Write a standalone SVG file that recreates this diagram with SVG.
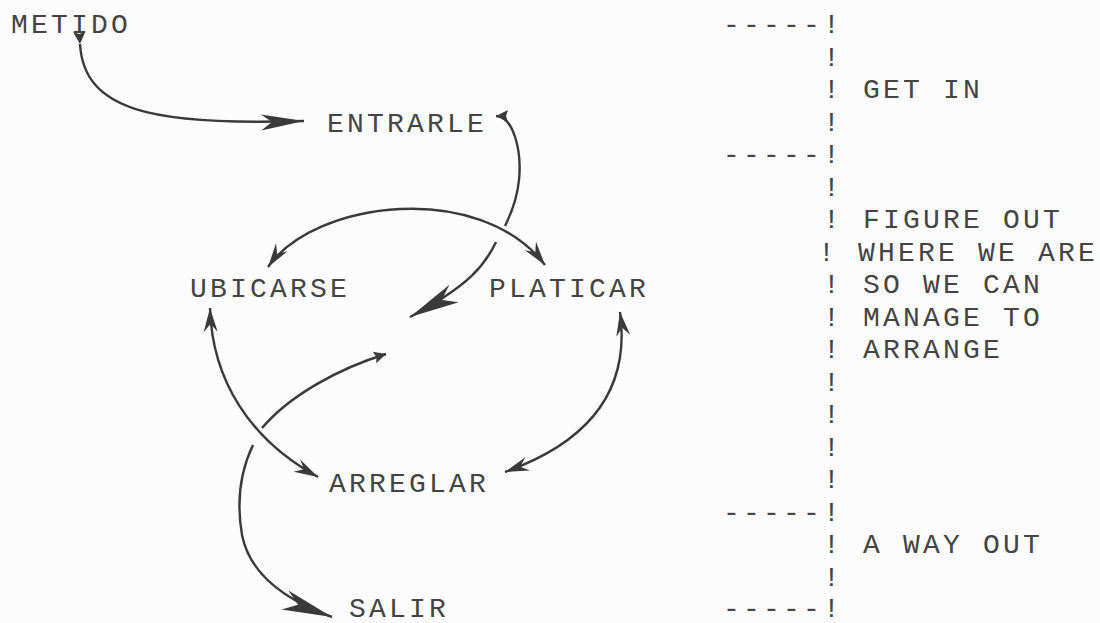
<svg xmlns="http://www.w3.org/2000/svg" width="1100" height="623" viewBox="0 0 1100 623">
  <defs>
    <style>
      text { font-family: "Liberation Mono", "Courier New", monospace; font-size: 28px; letter-spacing: 3.2px; fill: #444; }
      .conn { fill: none; stroke: #3a3a3a; stroke-width: 2.4; stroke-linecap: butt; }
    </style>
    <!-- barbed arrowheads, tip at the origin, pointing along +x -->
    <marker id="big" markerUnits="userSpaceOnUse" viewBox="-52 -12 54 24" refX="0" refY="0" markerWidth="54" markerHeight="24" orient="auto">
      <path d="M0,0 L-50,-10 L-36,0 L-50,10 Z" fill="#3a3a3a"/>
    </marker>
    <marker id="long" markerUnits="userSpaceOnUse" viewBox="-46 -10 48 20" refX="0" refY="0" markerWidth="48" markerHeight="20" orient="auto">
      <path d="M0,0 L-43,-8 L-32,0 L-43,8 Z" fill="#3a3a3a"/>
    </marker>
    <marker id="med" markerUnits="userSpaceOnUse" viewBox="-26 -9 28 18" refX="0" refY="0" markerWidth="28" markerHeight="18" orient="auto">
      <path d="M0,0 L-24,-7 L-16,0 L-24,7 Z" fill="#3a3a3a"/>
    </marker>
    <marker id="medStart" markerUnits="userSpaceOnUse" viewBox="-26 -9 28 18" refX="0" refY="0" markerWidth="28" markerHeight="18" orient="auto-start-reverse">
      <path d="M0,0 L-24,-7 L-16,0 L-24,7 Z" fill="#3a3a3a"/>
    </marker>
    <!-- small solid tail marks -->
    <marker id="tick" markerUnits="userSpaceOnUse" viewBox="-14 -7 16 14" refX="0" refY="0" markerWidth="16" markerHeight="14" orient="auto">
      <path d="M0,0 L-12,-6 L-10,0 L-12,6 Z" fill="#3a3a3a"/>
    </marker>
    <marker id="tickStart" markerUnits="userSpaceOnUse" viewBox="-14 -7 16 14" refX="0" refY="0" markerWidth="16" markerHeight="14" orient="auto-start-reverse">
      <path d="M0,0 L-12,-6 L-10,0 L-12,6 Z" fill="#3a3a3a"/>
    </marker>
  </defs>

  <rect width="1100" height="623" fill="#fcfcfc"/>

  <g id="connectors">
    <!-- METIDO to ENTRARLE -->
    <path class="conn" d="M80,44 C84,110 150,126 304,121" marker-start="url(#tick)" marker-end="url(#long)"/>
    <!-- ENTRARLE down to the crossing -->
    <path class="conn" d="M496,116 C513,116 522,150 519,180 C517,200 511,214 505,226" marker-start="url(#tickStart)"/>
    <!-- crossing down to the centre -->
    <path class="conn" d="M496,242 C485,265 470,285 410,317" marker-end="url(#big)"/>
    <!-- centre out towards the lower crossing -->
    <path class="conn" d="M386,354 C340,368 290,395 262,428" marker-start="url(#tickStart)"/>
    <!-- lower crossing to SALIR -->
    <path class="conn" d="M253,445 C241,470 236,500 242,535 C250,575 285,600 332,617" marker-end="url(#big)"/>
    <!-- UBICARSE / PLATICAR arc -->
    <path class="conn" d="M268,267 C315,200 480,180 545,265" marker-start="url(#medStart)" marker-end="url(#med)"/>
    <!-- UBICARSE / ARREGLAR -->
    <path class="conn" d="M210,308 C212,380 250,440 318,477" marker-start="url(#medStart)" marker-end="url(#med)"/>
    <!-- PLATICAR / ARREGLAR -->
    <path class="conn" d="M620,312 C630,385 595,440 505,472" marker-start="url(#medStart)" marker-end="url(#med)"/>
  </g>

  <g id="metido"><text x="11" y="33">METIDO</text></g>
  <g id="entrarle"><text x="327" y="132">ENTRARLE</text></g>
  <g id="ubicarse"><text x="190" y="297">UBICARSE</text></g>
  <g id="platicar"><text x="489" y="297">PLATICAR</text></g>
  <g id="arreglar"><text x="329" y="492">ARREGLAR</text></g>
  <g id="salir"><text x="349" y="617">SALIR</text></g>

  <!-- phase column -->
  <g id="phases">
    <text x="723" y="33">-----!</text>
    <text x="823" y="65.5">!</text>
    <text x="823" y="98">! GET IN</text>
    <text x="823" y="130.5">!</text>
    <text x="723" y="163">-----!</text>
    <text x="823" y="195.5">!</text>
    <text x="823" y="228">! FIGURE OUT</text>
    <text x="818" y="260.5">! WHERE WE ARE</text>
    <text x="823" y="293">! SO WE CAN</text>
    <text x="823" y="325.5">! MANAGE TO</text>
    <text x="823" y="358">! ARRANGE</text>
    <text x="823" y="390.5">!</text>
    <text x="823" y="423">!</text>
    <text x="823" y="455.5">!</text>
    <text x="823" y="488">!</text>
    <text x="723" y="520.5">-----!</text>
    <text x="823" y="553">! A WAY OUT</text>
    <text x="823" y="585.5">!</text>
    <text x="723" y="617">-----!</text>
  </g>
</svg>
